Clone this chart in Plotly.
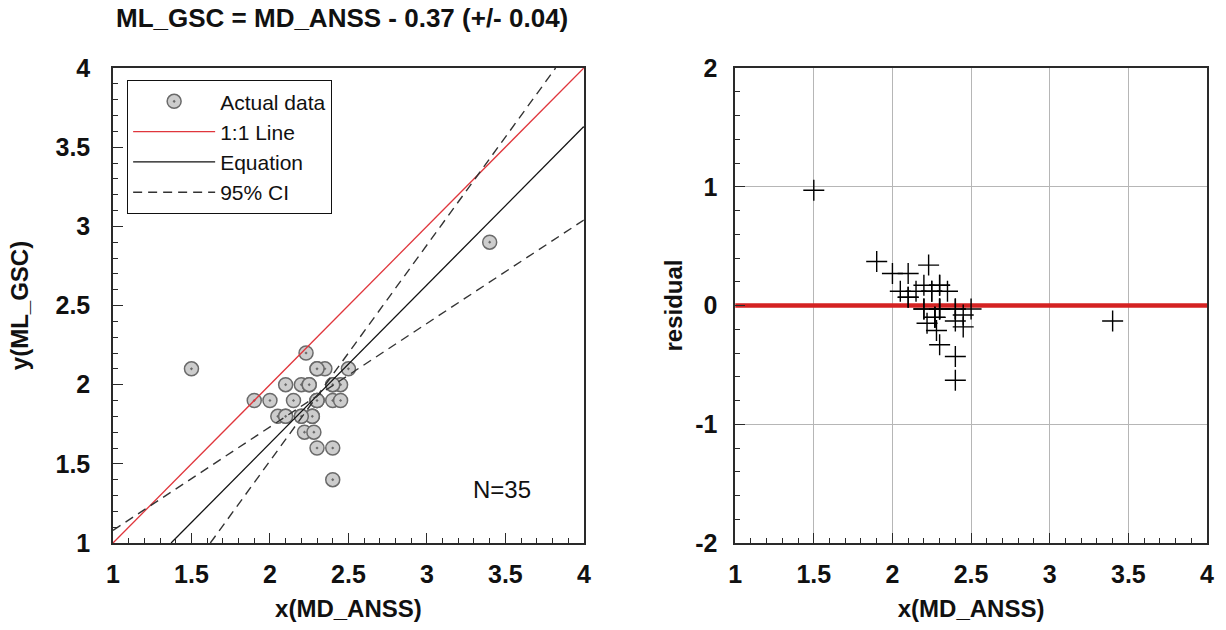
import plotly.graph_objects as go
from plotly.subplots import make_subplots

# ---- data ----
x_md_anss = [1.5, 1.9, 2.0, 2.05, 2.1, 2.1, 2.15, 2.2, 2.25, 2.23,
             2.2, 2.27, 2.22, 2.28, 2.3, 2.35, 2.3, 2.3, 2.4, 2.4,
             2.4, 2.4, 2.45, 2.45, 2.5, 3.4,
             2.3, 2.3, 2.27, 2.27, 2.2, 2.4, 2.25, 2.1, 2.3]
y_ml_gsc = [2.1, 1.9, 1.9, 1.8, 2.0, 1.8, 1.9, 2.0, 2.0, 2.2,
            1.8, 1.8, 1.7, 1.7, 2.1, 2.1, 1.9, 1.6, 2.0, 1.9,
            1.6, 1.4, 2.0, 1.9, 2.1, 2.9,
            1.9, 1.9, 1.8, 1.8, 1.8, 2.0, 2.0, 1.8, 2.1]

fit_intercept = -0.37
one_to_one_x = [1.0, 4.0]
one_to_one_y = [1.0, 4.0]
equation_x = [1.37, 4.0]
equation_y = [x + fit_intercept for x in equation_x]
ci_steep_x = [1.62, 3.82]
ci_steep_y = [1.0, 4.0]
ci_shallow_x = [1.0, 4.0]
ci_shallow_y = [1.08, 3.04]
zero_x = [1.0, 4.0]
zero_y = [0.0, 0.0]
residual = [y - (x + fit_intercept) for x, y in zip(x_md_anss, y_ml_gsc)]

x_ticks = [1, 1.5, 2, 2.5, 3, 3.5, 4]
x_tick_text = ["1", "1.5", "2", "2.5", "3", "3.5", "4"]
y_ticks = [1, 1.5, 2, 2.5, 3, 3.5, 4]
y_tick_text = ["1", "1.5", "2", "2.5", "3", "3.5", "4"]
r_ticks = [-2, -1, 0, 1, 2]
r_tick_text = ["-2", "-1", "0", "1", "2"]

title_text = "ML_GSC = MD_ANSS - 0.37 (+/- 0.04)"
n_label = "N=35"

FONT = "Liberation Sans, Arial, sans-serif"
AX = "#2a2a2a"

fig = make_subplots(rows=1, cols=2)

fig.add_trace(go.Scatter(x=x_md_anss, y=y_ml_gsc, mode="markers", name="Actual data",
                         marker=dict(symbol="circle-dot", size=14, color="#cdcdcd",
                                     line=dict(color="#6a6a6a", width=1.5))), 1, 1)
fig.add_trace(go.Scatter(x=one_to_one_x, y=one_to_one_y, mode="lines", name="1:1 Line",
                         line=dict(color="#e0363c", width=1.3)), 1, 1)
fig.add_trace(go.Scatter(x=equation_x, y=equation_y, mode="lines", name="Equation",
                         line=dict(color="#111111", width=1.3)), 1, 1)
fig.add_trace(go.Scatter(x=ci_steep_x, y=ci_steep_y, mode="lines", name="95% CI",
                         legendgroup="ci",
                         line=dict(color="#333333", width=1.4, dash="9px,6px")), 1, 1)
fig.add_trace(go.Scatter(x=ci_shallow_x, y=ci_shallow_y, mode="lines", name="95% CI",
                         legendgroup="ci", showlegend=False,
                         line=dict(color="#333333", width=1.4, dash="9px,6px")), 1, 1)

fig.add_trace(go.Scatter(x=zero_x, y=zero_y, mode="lines", showlegend=False,
                         line=dict(color="#d42222", width=4.5)), 1, 2)
fig.add_trace(go.Scatter(x=x_md_anss, y=residual, mode="markers", showlegend=False,
                         marker=dict(symbol="cross-thin", size=15,
                                     line=dict(color="#000000", width=1.4))), 1, 2)

W, H = 1226, 630
ml, mr, mt, mb = 113, 14, 68, 87
pw = W - ml - mr
ph = H - mt - mb

def xdom(a, b):
    return [(a - ml) / pw, (b - ml) / pw]

tickfont = dict(family=FONT, size=25, color="#111111", weight="bold")
titlefont = dict(family=FONT, size=24, color="#111111", weight="bold")

common = dict(ticks="inside", ticklen=10, tickwidth=1.2, tickcolor=AX,
              showline=True, linecolor=AX, linewidth=1.5, mirror=True,
              zeroline=False, tickfont=tickfont, tickmode="array")

fig.update_xaxes(domain=xdom(113, 586), range=[1, 4], tickvals=x_ticks, ticktext=x_tick_text,
                 showgrid=False, ticklabelstandoff=8,
                 minor=dict(tick0=1, dtick=0.1, ticks="inside", ticklen=5, tickwidth=1, tickcolor=AX),
                 title=dict(text="x(MD_ANSS)", font=titlefont, standoff=13),
                 row=1, col=1, **common)
fig.update_yaxes(range=[1, 4], tickvals=y_ticks, ticktext=y_tick_text, showgrid=False,
                 ticklabelstandoff=16,
                 minor=dict(tick0=1, dtick=0.1, ticks="inside", ticklen=5, tickwidth=1, tickcolor=AX),
                 title=dict(text="y(ML_GSC)", font=titlefont, standoff=20),
                 row=1, col=1, **common)
fig.update_xaxes(domain=xdom(738, 1212), range=[1, 4], tickvals=x_ticks, ticktext=x_tick_text,
                 showgrid=True, gridcolor="#b6b6b6", gridwidth=1, ticklabelstandoff=8,
                 minor=dict(tick0=1, dtick=0.1, ticks="inside", ticklen=5, tickwidth=1, tickcolor=AX,
                            showgrid=False),
                 title=dict(text="x(MD_ANSS)", font=titlefont, standoff=13),
                 row=1, col=2, **common)
fig.update_yaxes(range=[-2, 2], tickvals=r_ticks, ticktext=r_tick_text,
                 showgrid=True, gridcolor="#b6b6b6", gridwidth=1, ticklabelstandoff=11,
                 minor=dict(tick0=-2, dtick=0.2, ticks="inside", ticklen=5, tickwidth=1, tickcolor=AX,
                            showgrid=False),
                 title=dict(text="residual", font=titlefont, standoff=6),
                 row=1, col=2, **common)

fig.update_layout(
    width=W, height=H,
    margin=dict(l=ml, r=mr, t=mt, b=mb),
    paper_bgcolor="white", plot_bgcolor="white",
    font=dict(family=FONT, color="#111111"),
    showlegend=True,
    legend=dict(x=(127 - ml) / pw, y=1 - (80 - mt) / ph, xanchor="left", yanchor="top",
                bgcolor="white", bordercolor="#111111", borderwidth=1.2,
                font=dict(family=FONT, size=21, color="#111111"),
                itemwidth=82, entrywidth=210, entrywidthmode="pixels", tracegroupgap=0),
    annotations=[
        dict(text=title_text, xref="paper", yref="paper",
             x=(343 - ml) / pw, y=1 + (mt - 18) / ph, xanchor="center", yanchor="middle",
             showarrow=False, font=dict(family=FONT, size=26, color="#111111", weight="bold")),
        dict(text=n_label, xref="x", yref="y", x=3.48, y=1.335, showarrow=False,
             xanchor="center", yanchor="middle",
             font=dict(family=FONT, size=24, color="#111111")),
    ],
)

fig.write_html("out.html", config={"displayModeBar": False},
               post_script="document.body.style.margin='0';")
